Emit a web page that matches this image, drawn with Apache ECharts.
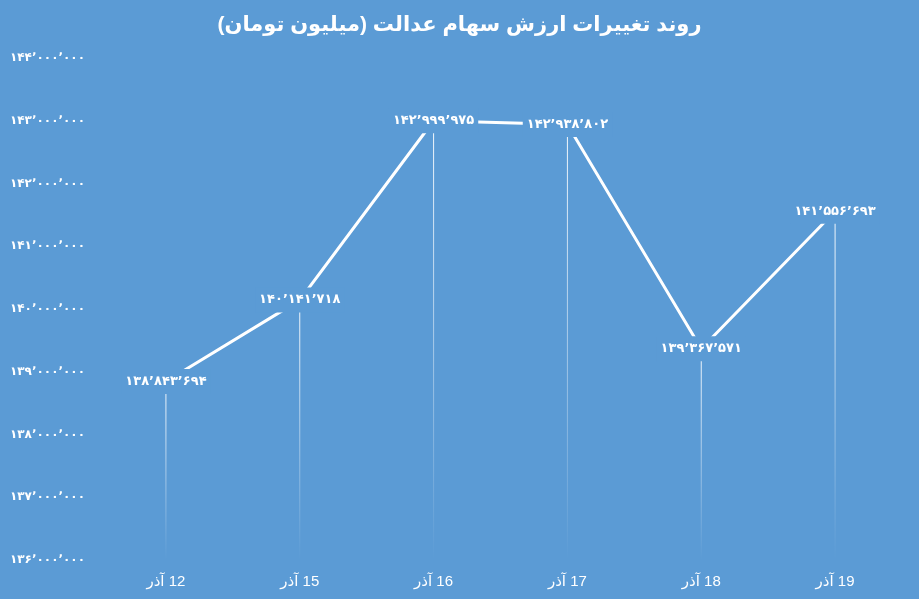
<!DOCTYPE html>
<html><head><meta charset="utf-8">
<script src="https://cdn.jsdelivr.net/npm/echarts@6/dist/echarts.min.js"></script>
<style>html,body{margin:0;padding:0;background:#5b9bd5}#c{width:919px;height:599px}</style>
</head><body><div id="c"></div>
<script>
const titleText = 'روند تغییرات ارزش سهام عدالت (میلیون تومان)';
const categories = ['12 آذر', '15 آذر', '16 آذر', '17 آذر', '18 آذر', '19 آذر'];
const values = [138843694, 140141718, 142999975, 142938802, 139367571, 141556693];
const yMin = 136000000, yMax = 144000000, yStep = 1000000;

const bg = '#5b9bd5';
function fa(n){
  const d='۰۱۲۳۴۵۶۷۸۹';
  const s=String(Math.round(n)).replace(/\B(?=(\d{3})+(?!\d))/g,'٬');
  return s.replace(/\d/g,c=>d[+c]);
}
const chart = echarts.init(document.getElementById('c'));
chart.setOption({
  backgroundColor: bg,
  animation: false,
  title: {text: titleText, left: 'center', top: 10,
    textStyle: {color:'#fff', fontSize: 21, fontWeight:'bold', fontFamily:'Liberation Sans, DejaVu Sans, sans-serif'}},
  grid: {left: 99, right: 17, top: 58, bottom: 39},
  xAxis: {type:'category', data: categories, boundaryGap: true,
    axisLine:{show:false}, axisTick:{show:false},
    axisLabel:{color:'#fff', fontSize:15, margin:14, formatter: v=>'\u200F'+v, fontFamily:'Liberation Sans, DejaVu Sans, sans-serif'}},
  yAxis: {type:'value', min:yMin, max:yMax, interval:yStep,
    splitLine:{show:false}, axisLine:{show:false}, axisTick:{show:false},
    axisLabel:{color:'#fff', fontSize:12, margin:14, fontWeight:'bold', formatter: v=>fa(v), fontFamily:'DejaVu Sans, sans-serif'}},
  series: [
    {type:'bar', data: values, barWidth: 1, z:1, silent:true,
      itemStyle:{color: new echarts.graphic.LinearGradient(0,0,0,1,[
        {offset:0,color:'rgba(255,255,255,0.95)'},{offset:1,color:'rgba(255,255,255,0.0)'}])}},
    {type:'line', data: values, z:3, symbol:'circle', symbolSize:1, showSymbol:true,
      itemStyle:{color:'#fff'}, lineStyle:{color:'#fff', width:3},
      label:{show:true, position:'inside', color:'#fff', fontSize:13, fontWeight:'bold',
        backgroundColor: bg, padding:[6,4], formatter: p=>fa(p.value), fontFamily:'DejaVu Sans, sans-serif'}}
  ]
});
</script></body></html>
